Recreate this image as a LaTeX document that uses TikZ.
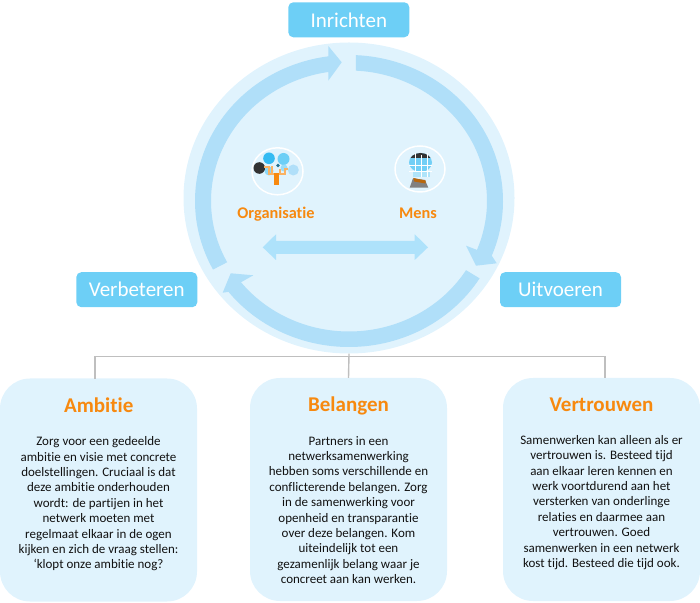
\documentclass[tikz,border=0pt]{standalone}
\usepackage{fontspec}
\usetikzlibrary{shapes.geometric}
\setmainfont{Carlito}[Ligatures=NoCommon]
\definecolor{pale}{HTML}{E0F3FD}
\definecolor{ringc}{HTML}{B0DFF9}
\definecolor{dblc}{HTML}{AEE2FB}
\definecolor{boxc}{HTML}{6DCFF6}
\definecolor{blobc}{HTML}{35BBF2}
\definecolor{orangeT}{HTML}{F7890F}
\definecolor{linec}{HTML}{BFBFBF}
\definecolor{txt}{HTML}{111111}
\tikzset{
  tag/.style={fill=boxc,rounded corners=5pt,minimum width=121pt,minimum height=35pt,inner sep=0pt,text=white,font=\fontsize{21}{25}\selectfont},
  card/.style={fill=pale,rounded corners=30pt,minimum width=197pt,minimum height=223pt,inner sep=0pt},
  cardtitle/.style={text=orangeT,font=\fontsize{21}{25}\selectfont\bfseries,inner sep=0pt,anchor=base},
  cardbody/.style={text=txt,font=\fontsize{13}{15.4}\selectfont,align=center,inner sep=0pt,anchor=north},
  ringarrow/.style={fill=ringc},
  iconlabel/.style={text=orangeT,font=\fontsize{16.3}{19}\selectfont\bfseries,inner sep=0pt,anchor=base},
  conn/.style={draw=linec,line width=1.4pt},
  iconring/.style={draw=white,line width=1.5pt,fill=pale},
}
\begin{document}
\begin{tikzpicture}[x=1pt,y=1pt]
\useasboundingbox (0,0) rectangle (700,602);
% circle
\node[fill=pale,ellipse,minimum width=331pt,minimum height=311pt,inner sep=0pt] (disc) at (349,404) {};
% cards
\node[card] (ambitie) at (98.5,112) {};
\node[card] (belangen) at (348.5,112.5) {};
\node[card] (vertrouwen) at (601.5,112.5) {};
% connectors
\coordinate (amtop) at (95,223);
\coordinate (vrtop) at (605,224);
\coordinate (bus) at (349,245.3);
\draw[conn] (amtop) |- (bus) -| (vrtop);
\draw[conn] (disc.south) -- (belangen.north);
% ring arrows
\def\cxx{349}\def\cyy{401}\def\ro{154}\def\rob{146}\def\ri{138}\def\rib{130.5}
\fill[ringarrow] ({\cxx+\ro*cos(208)},{\cyy+\rob*sin(208)}) arc[start angle=208,end angle=97.7,x radius=154pt,y radius=146pt]
  -- (328.3,556) -- (341.7,539.7) -- (328.3,521.3) -- ({\cxx+\ri*cos(98.6)},{\cyy+\rib*sin(98.6)})
  arc[start angle=98.6,end angle=208,x radius=138pt,y radius=130.5pt] -- cycle;
\fill[ringarrow] ({\cxx+\ro*cos(87.4)},{\cyy+\rob*sin(87.4)}) arc[start angle=87.4,end angle=-22,x radius=154pt,y radius=146pt]
  -- (496.7,338.7) -- (476,336.3) -- (466,356.3) -- ({\cxx+\ri*cos(-22)},{\cyy+\rib*sin(-22)})
  arc[start angle=-22,end angle=87.1,x radius=138pt,y radius=130.5pt] -- cycle;
\fill[ringarrow] ({\cxx+\ro*cos(-32)},{\cyy+\rob*sin(-32)}) arc[start angle=-32,end angle=-141.5,x radius=154pt,y radius=146pt]
  -- (222.7,309.3) -- (230.7,328.7) -- (253.3,326.7) -- ({\cxx+\ri*cos(-141.5)},{\cyy+\rib*sin(-141.5)})
  arc[start angle=-141.5,end angle=-32,x radius=138pt,y radius=130.5pt] -- cycle;
% double arrow
\fill[dblc] (262.7,354.7) -- (276,367.7) -- (276,361) -- (414.7,361) -- (414.7,367.7) -- (428,354.7) -- (414.7,342) -- (414.7,348) -- (276,348) -- (276,342) -- cycle;
% tags
\node[tag] (inrichten) at (348.8,582.2) {Inrichten};
\node[tag] (verbeteren) at (136.8,312.3) {\raisebox{-0.7pt}{Verbeteren}};
\node[tag] (uitvoeren) at (560.5,312.3) {\raisebox{-0.7pt}{Uitvoeren}};
% organisatie icon
\draw[iconring] (277.5,430.7) ellipse [x radius=25.5pt,y radius=23.5pt];
\fill[blobc] (269,443.7) circle (5.8pt);
\fill[boxc] (283.5,443) circle (6pt);
\fill[ringc] (293.3,432) circle (5.5pt);
\fill[boxc!80!white] (269,431) circle (4.5pt);
\fill[boxc!70!white] (284,434) circle (3.5pt);
\fill[blobc!60!black] (278,436.5) circle (1.8pt);
\fill[black!80] (259.3,434) circle (5.8pt);
\draw[orangeT!65!white,line width=1.2pt] (264,435) -- (269,435) -- (269,428) -- (285,428) -- (285,433) -- (288,433);
\draw[orangeT!65!white,line width=1.2pt] (272,428) -- (272,436) (280,428) -- (280,433);
\fill[orangeT] (274,417) rectangle (278.5,429);
% mens icon
\draw[iconring] (420,433) ellipse [x radius=25pt,y radius=23pt];
\fill[blobc!70!white] (420.5,439.5) ellipse [x radius=11.5pt,y radius=9.5pt];
\begin{scope}
  \clip (405,444.8) rectangle (435,452);
  \fill[black!80] (420.5,439.5) ellipse [x radius=11.5pt,y radius=9.5pt];
\end{scope}
\fill[boxc!55!white] (413,425.3) rectangle (430,430.3);
\draw[white,line width=0.6pt] (409,437) -- (432,437) (409,431) -- (432,431) (415,449) -- (415,431) (421,447) -- (421,425) (427,449) -- (427,425);
\fill[black!50] (409.7,414.3) -- (413,423.7) -- (425,422) -- (428.3,414.3) -- cycle;
\fill[orangeT!75!black] (413.3,424) -- (414.3,420.5) -- (425.5,418.5) -- (425.5,421.5) -- cycle;
% labels
\node[iconlabel] (organisatie) at (276,383) {Organisatie};
\node[iconlabel] (mens) at (418,383.7) {Mens};
% card text
\node[cardtitle] (t1) at (98.7,189.7) {Ambitie};
\node[cardtitle] (t2) at (348.5,190.3) {Belangen};
\node[cardtitle] (t3) at (601.5,190) {Vertrouwen};
\node[cardbody] (b1) at (98.5,165.5) {Zorg voor een gedeelde\\ambitie en visie met concrete\\doelstellingen. Cruciaal is dat\\deze ambitie onderhouden\\wordt: de partijen in het\\netwerk moeten met\\regelmaat elkaar in de ogen\\kijken en zich de vraag stellen:\\‘klopt onze ambitie nog?};
\node[cardbody] (b2) at (348.5,166) {Partners in een\\netwerksamenwerking\\hebben soms verschillende en\\conflicterende belangen. Zorg\\in de samenwerking voor\\openheid en transparantie\\over deze belangen. Kom\\uiteindelijk tot een\\gezamenlijk belang waar je\\concreet aan kan werken.};
\node[cardbody] (b3) at (601.5,167) {Samenwerken kan alleen als er\\vertrouwen is. Besteed tijd\\aan elkaar leren kennen en\\werk voortdurend aan het\\versterken van onderlinge\\relaties en daarmee aan\\vertrouwen. Goed\\samenwerken in een netwerk\\kost tijd. Besteed die tijd ook.};
\end{tikzpicture}
\end{document}
